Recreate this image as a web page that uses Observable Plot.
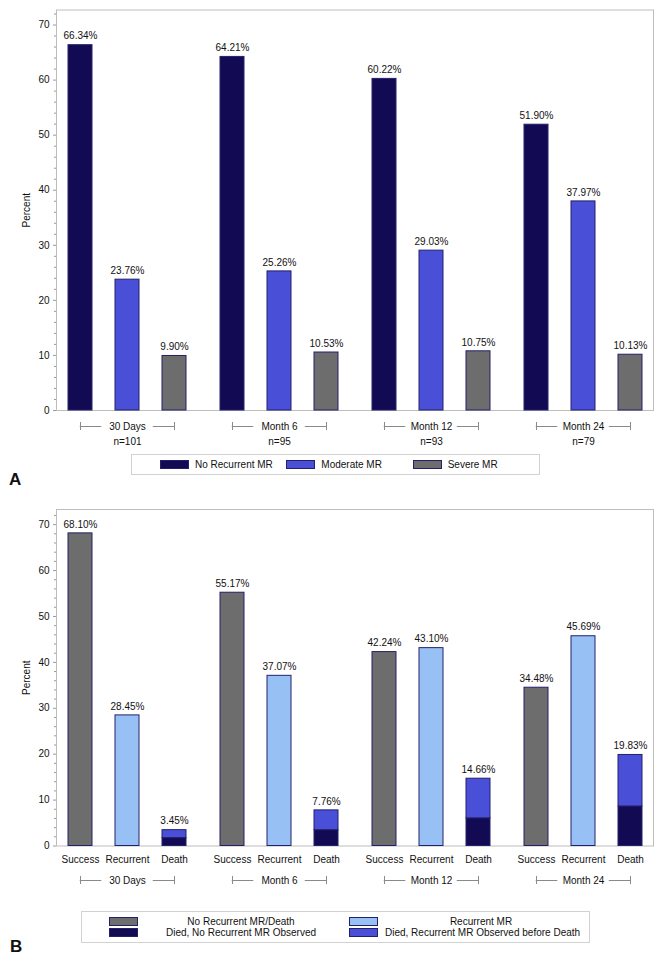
<!DOCTYPE html>
<html>
<head>
<meta charset="utf-8">
<script src="https://cdn.jsdelivr.net/npm/d3@7"></script>
<script src="https://cdn.jsdelivr.net/npm/@observablehq/plot@0.6"></script>
<style>
  body { margin: 0; background: #fff; font-family: "Liberation Sans", Arial, sans-serif; color: #111; }
  #wrap { position: relative; width: 664px; height: 962px; overflow: hidden; background: #fff; }
  #panelA { position: absolute; left: 0; top: 0; }
  #panelB { position: absolute; left: 0; top: 490px; }
  .legend { position: absolute; border: 1px solid #d2d2d2; box-sizing: border-box; font-size: 10px; color: #111; }
  #legendA { left: 131px; top: 454px; width: 409px; height: 21px; display: flex; align-items: center; padding-left: 28px; }
  #legendA .item { width: 130.5px; display: flex; align-items: center; white-space: nowrap; }
  .sw { box-sizing: border-box; border: 1px solid #24206a; }
  #legendA .sw { width: 29px; height: 9px; margin-right: 6px; }
  #legendB { left: 81px; top: 911px; width: 509px; height: 32px; display: flex; align-items: center; padding-left: 27px; }
  #legendB .col { width: 246px; display: flex; align-items: center; }
  #legendB .stack { width: 29px; display: flex; flex-direction: column; gap: 2px; }
  #legendB .sw { width: 29px; height: 9px; }
  #legendB .txt { width: 192px; margin-left: 7px; text-align: center; line-height: 11px; white-space: nowrap; }
  .tag { position: absolute; font-weight: bold; font-size: 17px; line-height: 17px; }
</style>
</head>
<body>
<div id="wrap">
  <div id="panelA"></div>
  <div id="legendA" class="legend"></div>
  <div class="tag" style="left:9px;top:471px;">A</div>
  <div id="panelB"></div>
  <div id="legendB" class="legend"></div>
  <div class="tag" style="left:10px;top:938px;">B</div>
</div>
<script>
// ---------- data ----------
const groups = ["30 Days", "Month 6", "Month 12", "Month 24"];
const groupN = ["n=101", "n=95", "n=93", "n=79"];
const yTicks = [0, 10, 20, 30, 40, 50, 60, 70];

// Panel A
const seriesA = ["No Recurrent MR", "Moderate MR", "Severe MR"];
const noRecurrentMR = [66.34, 64.21, 60.22, 51.90];
const moderateMR = [23.76, 25.26, 29.03, 37.97];
const severeMR = [9.90, 10.53, 10.75, 10.13];
const colorsA = ["#120a52", "#4a4fd8", "#6d6d6d"];

// Panel B
const catsB = ["Success", "Recurrent", "Death"];
const partsB = ["No Recurrent MR/Death", "Recurrent MR", "Died, No Recurrent MR Observed", "Died, Recurrent MR Observed before Death"];
const successVals = [68.10, 55.17, 42.24, 34.48];
const recurrentVals = [28.45, 37.07, 43.10, 45.69];
const diedNoRecurrent = [1.72, 3.45, 6.03, 8.62];
const diedRecurrent = [1.73, 4.31, 8.63, 11.21];
const deathTotals = [3.45, 7.76, 14.66, 19.83];
const colorsB = ["#6d6d6d", "#97c1f5", "#120a52", "#4a4fd8"];

const outline = "#24206a";
const axisGray = "#9a9a9a";
const bracketGray = "#8a8a8a";
const font = '"Liberation Sans", Arial, sans-serif';

// ---------- tables ----------
const tableA = groups.flatMap((g, i) => [
  {group: g, series: seriesA[0], value: noRecurrentMR[i]},
  {group: g, series: seriesA[1], value: moderateMR[i]},
  {group: g, series: seriesA[2], value: severeMR[i]}
]);
const tableB = groups.flatMap((g, i) => [
  {group: g, cat: catsB[0], part: partsB[0], value: successVals[i]},
  {group: g, cat: catsB[1], part: partsB[1], value: recurrentVals[i]},
  {group: g, cat: catsB[2], part: partsB[2], value: diedNoRecurrent[i]},
  {group: g, cat: catsB[2], part: partsB[3], value: diedRecurrent[i]}
]);
const labelsB = groups.flatMap((g, i) => [
  {group: g, cat: catsB[0], value: successVals[i]},
  {group: g, cat: catsB[1], value: recurrentVals[i]},
  {group: g, cat: catsB[2], value: deathTotals[i]}
]);
const minorTicks = d3.range(0, 73, 2).filter(v => v % 10 !== 0);

function axes() {
  return [
    Plot.frame({facet: "super", stroke: "#bdbdbd"}),
    Plot.axisY({ticks: minorTicks, tickSize: 2, tickFormat: () => "", label: null, stroke: axisGray}),
    Plot.axisY({ticks: yTicks, tickSize: 3, tickPadding: 4, label: "Percent", labelAnchor: "center", labelOffset: 34, labelArrow: "none", stroke: axisGray, fill: "#111"})
  ];
}

// group bracket: |---- label ----| spanning first to last bar centre
function brackets(series, dy) {
  const first = series[0], last = series[series.length - 1], mid = series[Math.floor(series.length / 2)];
  const ends = groups.flatMap(g => [{group: g, s: first}, {group: g, s: last}]);
  const halfBand = 11.75, gapInset = 37.75;
  return [
    Plot.ruleY(groups, {fx: d => d, x1: () => first, x2: () => mid, y: () => 0, dy, insetLeft: halfBand, insetRight: gapInset, stroke: bracketGray}),
    Plot.ruleY(groups, {fx: d => d, x1: () => mid, x2: () => last, y: () => 0, dy, insetLeft: gapInset, insetRight: halfBand, stroke: bracketGray}),
    Plot.ruleX(ends, {fx: "group", x: "s", y1: () => 0, y2: () => 0, insetTop: -4, insetBottom: -4, dy, stroke: bracketGray}),
    Plot.text(groups, {fx: d => d, x: () => mid, y: () => 0, dy, text: d => d, fill: "#111", fontSize: 10})
  ];
}

// ---------- Panel A ----------
const plotA = Plot.plot({
  width: 664, height: 452,
  marginLeft: 55, marginRight: 11, marginTop: 9.5, marginBottom: 42,
  style: {fontFamily: font, fontSize: "10px", color: "#111", background: "white", overflow: "visible"},
  fx: {domain: groups, paddingInner: 0.074, paddingOuter: 0, axis: null, label: null},
  x: {domain: seriesA, paddingInner: 0.5, paddingOuter: 0.25, axis: null, label: null},
  y: {domain: [0, 72.73]},
  color: {domain: seriesA, range: colorsA},
  marks: [
    ...axes(),
    Plot.barY(tableA, {fx: "group", x: "series", y: "value", fill: "series", stroke: outline, strokeWidth: 1}),
    Plot.text(tableA, {fx: "group", x: "series", y: "value", text: d => d.value.toFixed(2) + "%", dy: -9, fill: "#111", fontSize: 10}),
    ...brackets(seriesA, 16),
    Plot.text(groups, {fx: d => d, x: () => seriesA[1], y: () => 0, dy: 31, text: d => groupN[groups.indexOf(d)], fill: "#111", fontSize: 10})
  ]
});
document.getElementById("panelA").append(plotA);

// ---------- Panel B ----------
const plotB = Plot.plot({
  width: 664, height: 400,
  marginLeft: 55, marginRight: 11, marginTop: 19, marginBottom: 44.5,
  style: {fontFamily: font, fontSize: "10px", color: "#111", background: "white", overflow: "visible"},
  fx: {domain: groups, paddingInner: 0.074, paddingOuter: 0, axis: null, label: null},
  x: {domain: catsB, paddingInner: 0.5, paddingOuter: 0.25, axis: null, label: null},
  y: {domain: [0, 73.3]},
  color: {domain: partsB, range: colorsB},
  marks: [
    ...axes(),
    Plot.barY(tableB, {fx: "group", x: "cat", y: "value", fill: "part", stroke: outline, strokeWidth: 1}),
    Plot.text(labelsB, {fx: "group", x: "cat", y: "value", text: d => d.value.toFixed(2) + "%", dy: -9, fill: "#111", fontSize: 10}),
    Plot.text(labelsB, {fx: "group", x: "cat", y: () => 0, dy: 13.5, text: "cat", fill: "#111", fontSize: 10}),
    ...brackets(catsB, 34.5)
  ]
});
document.getElementById("panelB").append(plotB);

// ---------- Legends ----------
const legA = document.getElementById("legendA");
seriesA.forEach((s, i) => {
  const item = document.createElement("div");
  item.className = "item";
  item.innerHTML = `<div class="sw" style="background:${colorsA[i]}"></div><span>${s}</span>`;
  legA.append(item);
});
const legB = document.getElementById("legendB");
[[0, 2], [1, 3]].forEach(pair => {
  const col = document.createElement("div");
  col.className = "col";
  col.innerHTML = `<div class="stack">${pair.map(k => `<div class="sw" style="background:${colorsB[k]}"></div>`).join("")}</div>` +
    `<div class="txt">${pair.map(k => partsB[k]).join("<br>")}</div>`;
  legB.append(col);
});
</script>
</body>
</html>
